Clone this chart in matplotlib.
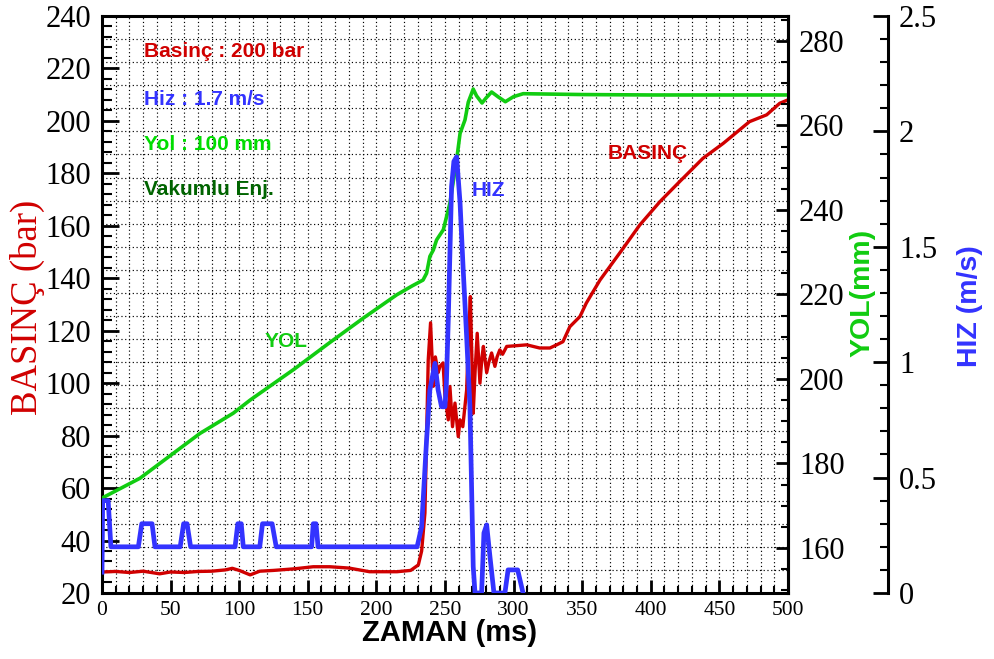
import matplotlib
matplotlib.use("Agg")
import matplotlib.pyplot as plt
from matplotlib.ticker import MultipleLocator, FormatStrFormatter

# ZAMAN (ms) / BASINC (bar)
t_bas = [0, 10, 20, 30, 42, 50, 60, 70, 80, 90, 95, 100, 108, 115, 125, 140, 154, 166,
         180, 195, 215, 225, 230.6, 233, 235.4, 237.8, 239.5, 241.5, 243, 245, 246.4,
         248.6, 250, 252.4, 253.6, 255.5, 257.3, 259.7, 261, 263, 265.8, 267, 268.5,
         269.5, 270.6, 272, 273.5, 275.5, 277, 278, 280.4, 282, 284, 286.4, 288, 290,
         292, 295, 300, 309.6, 319, 326.5, 331.4, 336, 341, 348.4, 353, 363, 380, 392,
         406.7, 421, 438, 452.8, 472, 484.5, 494, 500]
p_bas = [28, 28.2, 27.8, 28.3, 27.3, 28.0, 27.8, 28.2, 28.3, 28.8, 29.4, 28.6, 26.9,
         28.3, 28.6, 29.2, 30.0, 30.0, 29.5, 28.1, 28.1, 28.6, 30.7, 36, 50.5, 108.8,
         123, 98.8, 110, 104, 106.4, 107.7, 95, 86, 98.7, 83.4, 92.4, 79.6, 86, 83.4,
         97.4, 115, 133, 112, 88.5, 105, 119, 100, 110, 114, 104, 108, 111.5, 106.4,
         110, 112.7, 111, 114, 114.2, 114.6, 113.4, 113.4, 114.6, 115.8, 121.5, 125.4,
         130.5, 139.3, 151.5, 160.3, 169.2, 176.8, 185.7, 191.4, 199.7, 202.3, 206.7, 208]

# HIZ (m/s)
t_hiz = [0, 0.5, 4.5, 6.5, 26.5, 29, 36.5, 38.6, 57, 59.5, 62, 64.6, 97, 99, 101.5,
         103, 115, 117, 124, 127, 152.8, 154, 156, 157.5, 229.7, 233, 236.6, 239,
         242.7, 245, 247.5, 250, 251, 252.4, 253.6, 254.8, 256.5, 258.5, 261, 263.3,
         265.8, 268.2, 269.4, 270.6, 271.9, 276.7, 278.4, 280.4, 282.8, 285.7, 293.7,
         296, 303, 306.9, 310, 500]
v_hiz = [0.09, 0.40, 0.40, 0.20, 0.20, 0.30, 0.30, 0.20, 0.20, 0.30, 0.30, 0.20, 0.20,
         0.30, 0.30, 0.20, 0.20, 0.30, 0.30, 0.20, 0.20, 0.30, 0.30, 0.20, 0.20, 0.287,
         0.663, 0.88, 0.995, 0.88, 0.807, 0.807, 0.9, 1.18, 1.47, 1.76, 1.87, 1.89, 1.69,
         1.40, 1.11, 0.807, 0.46, 0.114, 0.0, 0.0, 0.26, 0.295, 0.157, 0.0, 0.0, 0.1,
         0.1, 0.0, -0.05, -0.05]

# YOL (mm)
t_yol = [0, 27.7, 52, 71.4, 95.7, 108, 140, 166, 190.5, 214.8, 226, 234, 236.6, 239,
         241.5, 243.9, 248.8, 253.6, 258.5, 261, 264.6, 267, 270.6, 273, 277, 280, 284,
         289, 294, 300, 307, 350, 400, 450, 500]
y_yol = [171.8, 176.5, 182.4, 187.1, 191.9, 195, 202.3, 208.6, 214.4, 219.9, 222,
         223.4, 225.0, 229, 230.5, 232.9, 235.3, 241.6, 251.8, 258.1, 261.3, 265.5,
         268.6, 267.0, 265.3, 266.5, 267.9, 266.7, 265.6, 266.8, 267.5, 267.3, 267.2,
         267.2, 267.2]

RED = "#d00000"
BLUE = "#3333ff"
GREEN = "#11cc11"
SERIF = "Liberation Serif"
SANS = "Liberation Sans"

fig = plt.figure(figsize=(9.94, 6.59), dpi=100)
ax = fig.add_axes([0.1026, 0.1002, 0.6901, 0.8756])
ax_yol = ax.twinx()
ax_hiz = ax.twinx()
ax_hiz.spines["right"].set_position(("axes", 1.1458))

for a in (ax_yol, ax_hiz):
    a.patch.set_visible(False)
    for s in ("top", "bottom", "left"):
        a.spines[s].set_visible(False)
for s in ax.spines.values():
    s.set_linewidth(2.2)
ax_yol.spines["right"].set_linewidth(2.2)
ax_hiz.spines["right"].set_linewidth(2.2)

# grid: every 10 ms and every 0.1 m/s
ax.set_xlim(0, 500)
ax.set_ylim(20, 240)
ax.xaxis.set_major_locator(MultipleLocator(50))
ax.xaxis.set_minor_locator(MultipleLocator(10))
ax.yaxis.set_major_locator(MultipleLocator(20))
ax.yaxis.set_minor_locator(MultipleLocator(4))
ax.grid(which="both", axis="x", color="black", linestyle=(0, (1, 2.2)), linewidth=0.85)
for k in range(1, 25):
    ax.plot([0, 1], [k / 25, k / 25], transform=ax.transAxes, color="black",
            linestyle=(0, (1, 2.2)), linewidth=0.85, zorder=0.5)

ax.plot(t_bas, p_bas, color=RED, linewidth=2.4, zorder=2)

ax_yol.set_ylim(149.35, 285.9)
ax_yol.yaxis.set_major_locator(MultipleLocator(20))
ax_yol.yaxis.set_minor_locator(MultipleLocator(5))
ax_yol.plot(t_yol, y_yol, color=GREEN, linewidth=2.6)

ax_hiz.set_ylim(0, 2.5)
ax_hiz.yaxis.set_major_locator(MultipleLocator(0.5))
ax_hiz.yaxis.set_minor_locator(MultipleLocator(0.1))
ax_hiz.yaxis.set_major_formatter(FormatStrFormatter("%g"))
ax_hiz.plot(t_hiz, v_hiz, color=BLUE, linewidth=3.4)

ax.tick_params(axis="x", which="major", direction="in", length=9.5, width=2,
               labelsize=15.5, pad=6, labelfontfamily=SERIF, top=False)
ax.tick_params(axis="x", which="minor", direction="in", length=5, width=1.5, top=False)
ax.tick_params(axis="y", which="major", direction="in", length=12, width=2,
               labelsize=22, pad=8, labelfontfamily=SERIF, right=False)
ax.tick_params(axis="y", which="minor", direction="in", length=7, width=1.5, right=False)
ax_yol.tick_params(axis="y", which="major", direction="in", length=9, width=2,
                   labelsize=22, pad=8, labelfontfamily=SERIF)
ax_yol.tick_params(axis="y", which="minor", direction="in", length=5, width=1.5)
ax_hiz.tick_params(axis="y", which="major", direction="in", length=11, width=2,
                   labelsize=22, pad=8, labelfontfamily=SERIF)
ax_hiz.tick_params(axis="y", which="minor", direction="in", length=6, width=1.5)

# axis titles
fig.text(0.028, 1 - 307 / 659, "BASINÇ (bar)", rotation=90, color=RED, fontsize=26.5,
         family=SERIF, ha="center", va="center")
fig.text(0.4527, 1 - 633 / 659, "ZAMAN (ms)", color="black", fontsize=21,
         family=SANS, weight="bold", ha="center", va="center")
fig.text(862 / 994, 1 - 293 / 659, "YOL(mm)", rotation=90, color=GREEN, fontsize=20.5,
         family=SANS, weight="bold", ha="center", va="center")
fig.text(970 / 994, 1 - 306 / 659, "HIZ (m/s)", rotation=90, color=BLUE, fontsize=20.5,
         family=SANS, weight="bold", ha="center", va="center")

# annotations
notes = [("Basinç : 200 bar", RED, 0.9376), ("Hiz : 1.7 m/s", BLUE, 0.8544),
         ("Yol : 100 mm", "#00dd00", 0.7764), ("Vakumlu Enj.", "#006400", 0.6984)]
for txt, col, yy in notes:
    ax.text(0.061, yy, txt, transform=ax.transAxes, color=col, fontsize=15,
            family=SANS, weight="bold", ha="left", va="center", zorder=5)
ax.text(0.2376, 0.435, "YOL", transform=ax.transAxes, color=GREEN, fontsize=15,
        family=SANS, weight="bold", ha="left", va="center")
ax.text(0.539, 0.698, "HIZ", transform=ax.transAxes, color=BLUE, fontsize=15,
        family=SANS, weight="bold", ha="left", va="center")
ax.text(0.7376, 0.762, "BASINÇ", transform=ax.transAxes, color=RED, fontsize=15,
        family=SANS, weight="bold", ha="left", va="center")

fig.savefig("out.png", dpi=100)
